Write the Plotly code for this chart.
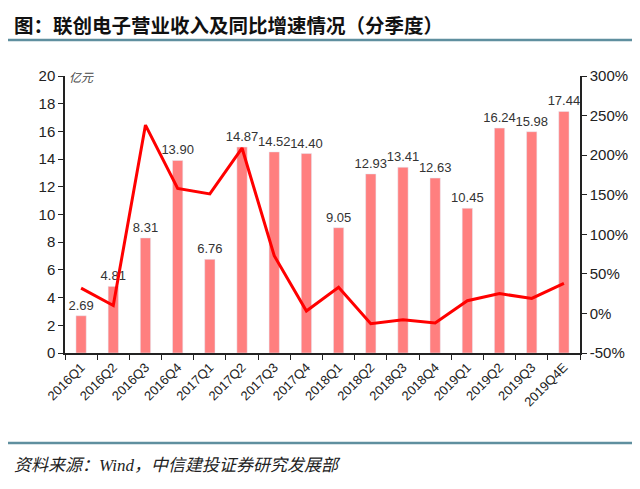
import plotly.graph_objects as go

# ── data ──
quarters = ["2016Q1", "2016Q2", "2016Q3", "2016Q4",
            "2017Q1", "2017Q2", "2017Q3", "2017Q4",
            "2018Q1", "2018Q2", "2018Q3", "2018Q4",
            "2019Q1", "2019Q2", "2019Q3", "2019Q4E"]
revenue = [2.69, 4.81, 8.31, 13.90,
           6.76, 14.87, 14.52, 14.40,
           9.05, 12.93, 13.41, 12.63,
           10.45, 16.24, 15.98, 17.44]
yoy_growth = [32, 10, 238, 158,
              151, 209, 73, 3,
              33, -13, -8, -12,
              16, 25, 19, 38]

left_ticks = list(range(0, 21, 2))
right_ticks = list(range(-50, 301, 50))

TITLE = "图：联创电子营业收入及同比增速情况（分季度）"
SOURCE = "资料来源：Wind，中信建投证券研究发展部"
UNIT = "亿元"

# the page body adds an 8px offset, so the figure is sized to fit the window
OFF = 8
W, H = 640 - OFF, 489 - OFF
ML, MR, MT, MB = 57, 58, 68, 136
PW, PH = W - ML - MR, H - MT - MB

def px_x(x):
    # window pixel -> paper x
    return (x - OFF - ML) / PW

def px_y(y):
    # window pixel -> paper y
    return (H - MB - (y - OFF)) / PH

fig = go.Figure()

fig.add_trace(go.Bar(
    x=quarters, y=revenue,
    width=0.32,
    marker_color="#FF7F7F",
    text=[f"{v:.2f}" for v in revenue],
    textposition="outside",
    constraintext="none",
    textfont=dict(family="Arial, Liberation Sans", size=13, color="#333333"),
    cliponaxis=False,
    name="营业收入",
))

fig.add_trace(go.Scatter(
    x=quarters, y=yoy_growth,
    yaxis="y2",
    mode="lines",
    line=dict(color="#FF0000", width=3),
    name="同比增速",
))

axis_font = dict(family="Arial, Liberation Sans", size=15, color="#222222")

fig.update_layout(
    width=W, height=H,
    margin=dict(l=ML, r=MR, t=MT, b=MB),
    paper_bgcolor="white", plot_bgcolor="white",
    showlegend=False,
    xaxis=dict(
        type="category",
        tickangle=-45,
        tickson="boundaries",
        ticks="outside", ticklen=5, tickcolor="#222222",
        showline=True, linecolor="#222222", linewidth=1.5,
        showgrid=False,
        tickfont=dict(family="Arial, Liberation Sans", size=13, color="#222222"),
    ),
    yaxis=dict(
        range=[0, 20],
        tickvals=left_ticks,
        ticks="outside", ticklen=5, tickcolor="#222222",
        showline=True, linecolor="#222222", linewidth=1.5,
        showgrid=False, zeroline=False,
        tickfont=axis_font,
    ),
    yaxis2=dict(
        overlaying="y", side="right",
        range=[-50, 300],
        tickvals=right_ticks,
        ticktext=[f"{v}%" for v in right_ticks],
        ticks="outside", ticklen=5, tickcolor="#222222",
        showline=True, linecolor="#222222", linewidth=1.5,
        showgrid=False, zeroline=False,
        tickfont=axis_font,
    ),
)

# header / footer rules
for ypix in (40, 443):
    fig.add_shape(type="line", xref="paper", yref="paper",
                  x0=px_x(0), x1=px_x(640), y0=px_y(ypix), y1=px_y(ypix),
                  line=dict(color="#5F8F9F", width=2.5))

fig.add_annotation(
    text=f"<b>{TITLE}</b>", xref="paper", yref="paper",
    x=px_x(12), y=px_y(8), xanchor="left", yanchor="top",
    showarrow=False,
    font=dict(family="Noto Sans CJK SC", size=19.5, color="#111111"),
)
fig.add_annotation(
    text=f"<i>{SOURCE}</i>", xref="paper", yref="paper",
    x=px_x(12), y=px_y(465), xanchor="left", yanchor="middle",
    showarrow=False,
    font=dict(family="Liberation Serif, Noto Sans CJK SC", size=17, color="#222222"),
)
fig.add_annotation(
    text=f"<i>{UNIT}</i>", xref="paper", yref="paper",
    x=px_x(67), y=px_y(76), xanchor="left", yanchor="middle",
    showarrow=False,
    font=dict(family="Noto Sans CJK SC", size=12, color="#444444"),
)

fig.write_html("out.html")
